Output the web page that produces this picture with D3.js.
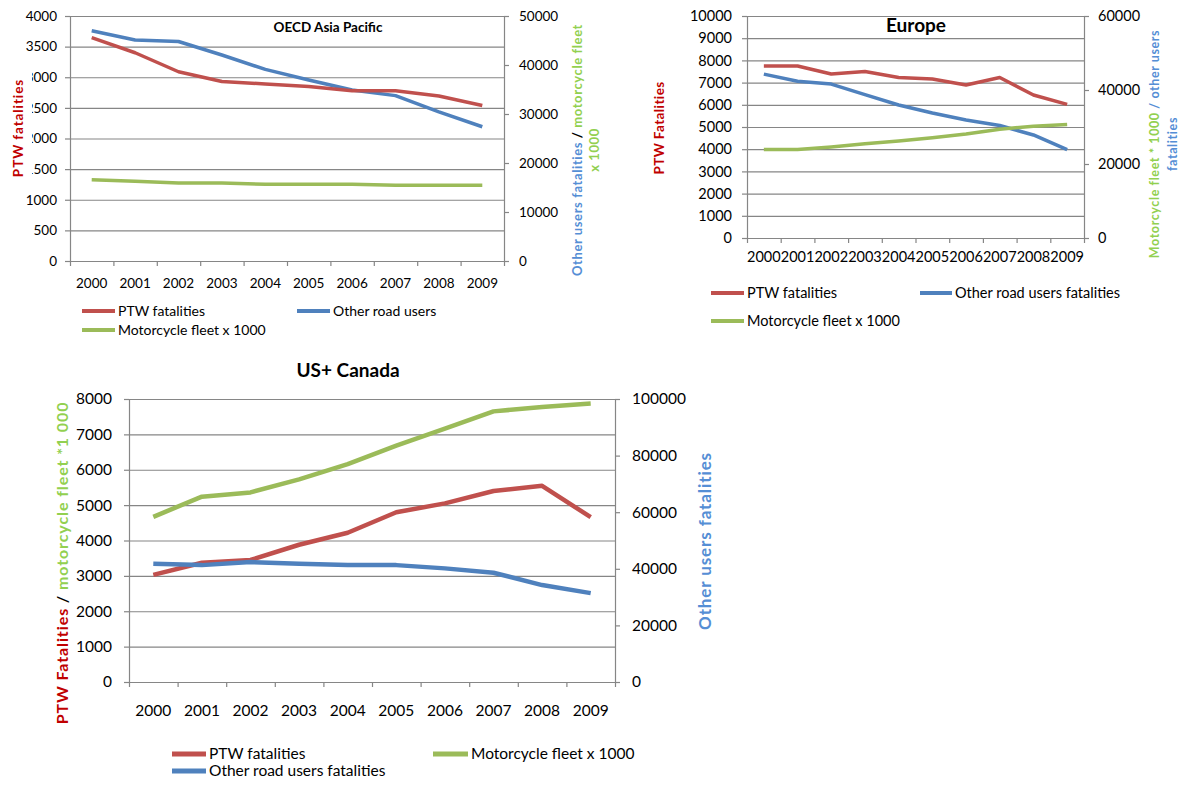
<!DOCTYPE html>
<html lang="en">
<head>
<meta charset="UTF-8">
<script src="https://d3js.org/d3.v7.min.js"></script>
<style>
  body { margin: 0; background: #fff; }
  svg text { font-family: Lato, "Open Sans", sans-serif; }
</style>
</head>
<body>
<svg id="chart" width="1183" height="787"></svg>
<script>
const years = ["2000", "2001", "2002", "2003", "2004", "2005", "2006", "2007", "2008", "2009"];

// OECD Asia Pacific
const asiaPtw = [3646, 3400, 3090, 2930, 2890, 2850, 2780, 2780, 2695, 2540];
const asiaOther = [47000, 45100, 44800, 42050, 39100, 36950, 34900, 33750, 30450, 27400];
const asiaFleet = [16600, 16300, 15900, 15900, 15650, 15650, 15650, 15450, 15450, 15450];
const asiaLeftTicks = [0, 500, 1000, 1500, 2000, 2500, 3000, 3500, 4000];
const asiaRightTicks = [0, 10000, 20000, 30000, 40000, 50000];

// Europe
const europePtw = [7750, 7750, 7390, 7500, 7230, 7160, 6890, 7230, 6440, 6020];
const europeOther = [44300, 42350, 41600, 38750, 35950, 33800, 31900, 30400, 27850, 23900];
const europeFleet = [23900, 23900, 24600, 25500, 26200, 27100, 28100, 29400, 30200, 30700];
const europeLeftTicks = [0, 1000, 2000, 3000, 4000, 5000, 6000, 7000, 8000, 9000, 10000];
const europeRightTicks = [0, 20000, 40000, 60000];

// US + Canada
const usPtw = [3030, 3370, 3450, 3880, 4220, 4800, 5050, 5400, 5545, 4660];
const usFleet = [4670, 5240, 5360, 5730, 6160, 6680, 7160, 7650, 7775, 7870];
const usOther = [41800, 41300, 42400, 41800, 41300, 41300, 40150, 38600, 34250, 31400];
const usLeftTicks = [0, 1000, 2000, 3000, 4000, 5000, 6000, 7000, 8000];
const usRightTicks = [0, 20000, 40000, 60000, 80000, 100000];

const RED = "#C0504D", BLUE = "#4F81BD", GREEN = "#9BBB59";
const LRED = "#C00000", LBLUE = "#558ED5", LGREEN = "#92D050";
const GRID = "#868686";

const svg = d3.select("#chart");

// rotated axis title; lines = list of [text, colour] parts
function rotatedLabel(cx, cy, size, spacing, lines, lineGap, maskRight) {
    const g = svg.append("g").attr("transform", `translate(${cx},${cy}) rotate(-90)`);
    const texts = lines.map((parts, i) => {
        const t = g.append("text")
            .attr("text-anchor", "middle")
            .attr("y", (i - (lines.length - 1) / 2) * lineGap)
            .attr("dy", "0.35em")
            .style("font-size", size + "px")
            .style("font-weight", "bold")
            .style("letter-spacing", spacing + "px");
        parts.forEach(p => t.append("tspan").attr("fill", p[1]).text(p[0]));
        return t;
    });
    if (maskRight) {
        // white box behind the title, hides part of the tick labels like the original
        const b = texts[0].node().getBBox();
        const top = b.y - 2;
        g.insert("rect", "text")
            .attr("x", b.x - 8).attr("y", top)
            .attr("width", b.width + 16).attr("height", maskRight - cx - top)
            .attr("fill", "#fff");
    }
}

function drawPanel(p) {
    const g = svg.append("g");
    const x = d3.scaleBand().domain(years).range([p.left, p.right]);
    const xb = d3.scaleLinear().domain([0, years.length]).range([p.left, p.right]);
    const yL = d3.scaleLinear().domain([0, d3.max(p.leftTicks)]).range([p.bottom, p.top]);
    const yR = d3.scaleLinear().domain([0, d3.max(p.rightTicks)]).range([p.bottom, p.top]);
    const fmt = d3.format("d");

    // gridlines
    g.append("g")
        .attr("transform", `translate(${p.left},0)`)
        .call(d3.axisLeft(yL).tickValues(p.leftTicks).tickSize(-(p.right - p.left)).tickFormat(""))
        .call(a => a.select(".domain").remove())
        .selectAll("line").attr("stroke", GRID).attr("stroke-width", 1.2);

    const la = g.append("g")
        .attr("transform", `translate(${p.left},0)`)
        .call(d3.axisLeft(yL).tickValues(p.leftTicks).tickFormat(fmt).tickSize(5).tickSizeOuter(0).tickPadding(p.padL));
    const ra = g.append("g")
        .attr("transform", `translate(${p.right},0)`)
        .call(d3.axisRight(yR).tickValues(p.rightTicks).tickFormat(fmt).tickSize(5).tickSizeOuter(0).tickPadding(p.padR));
    // category axis: ticks between categories, labels in the middle
    const ba = g.append("g")
        .attr("transform", `translate(0,${p.bottom})`)
        .call(d3.axisBottom(xb).tickValues(d3.range(years.length + 1)).tickSize(5).tickSizeOuter(0).tickFormat(""));
    const lab = g.append("g")
        .attr("transform", `translate(0,${p.bottom})`)
        .call(d3.axisBottom(x).tickSize(0))
        .call(a => a.select(".domain").remove());
    lab.selectAll("text").attr("y", p.xLabelOff).attr("dy", "0.35em");

    [la, ra, ba, lab].forEach(a => {
        a.selectAll(".domain, line").attr("stroke", GRID).attr("stroke-width", 1.2);
        a.selectAll("text").attr("fill", "#000").style("font-size", p.tickSize + "px");
    });

    p.series.forEach(s => {
        const y = s.axis === "left" ? yL : yR;
        const line = d3.line()
            .x((d, i) => x(years[i]) + x.bandwidth() / 2)
            .y(d => y(d));
        g.append("path")
            .datum(s.values)
            .attr("fill", "none")
            .attr("stroke", s.color)
            .attr("stroke-width", p.lineWidth)
            .attr("stroke-linejoin", "round")
            .attr("d", line);
    });

    g.append("text")
        .attr("x", p.title.x).attr("y", p.title.y)
        .attr("text-anchor", "middle").attr("dy", "0.35em")
        .style("font-size", p.title.size + "px")
        .style("font-weight", "bold")
        .text(p.title.text);

    p.legend.forEach(l => {
        g.append("line")
            .attr("x1", l.x).attr("x2", l.x + l.w)
            .attr("y1", l.y).attr("y2", l.y)
            .attr("stroke", l.color).attr("stroke-width", p.lineWidth + 0.5);
        g.append("text")
            .attr("x", l.x + l.w + 3).attr("y", l.y).attr("dy", "0.35em")
            .style("font-size", p.legendSize + "px")
            .text(l.text);
    });
}

drawPanel({
    left: 70, right: 504, top: 16, bottom: 261,
    leftTicks: asiaLeftTicks, rightTicks: asiaRightTicks,
    padL: 8, padR: 10, xLabelOff: 22, tickSize: 13.5, lineWidth: 3.5, legendSize: 14,
    title: { text: "OECD Asia Pacific", x: 328, y: 27, size: 13.5 },
    series: [
        { values: asiaOther, axis: "right", color: BLUE },
        { values: asiaFleet, axis: "right", color: GREEN },
        { values: asiaPtw, axis: "left", color: RED }
    ],
    legend: [
        { text: "PTW fatalities", color: RED, x: 82, y: 311, w: 33 },
        { text: "Other road users", color: BLUE, x: 297, y: 311, w: 33 },
        { text: "Motorcycle fleet x 1000", color: GREEN, x: 82, y: 330, w: 33 }
    ]
});
rotatedLabel(18, 128, 13.5, 0.9, [[["PTW fatalities", LRED]]], 0, 32);
rotatedLabel(586, 150, 13, 0.6, [
    [["Other users fatalities ", LBLUE], ["/", "#000"], [" motorcycle fleet", LGREEN]],
    [["x 1000", LGREEN]]
], 17, 0);

drawPanel({
    left: 747, right: 1084, top: 16, bottom: 238,
    leftTicks: europeLeftTicks, rightTicks: europeRightTicks,
    padL: 10, padR: 9, xLabelOff: 19, tickSize: 14.5, lineWidth: 3.5, legendSize: 14.5,
    title: { text: "Europe", x: 916, y: 25, size: 19 },
    series: [
        { values: europeOther, axis: "right", color: BLUE },
        { values: europeFleet, axis: "right", color: GREEN },
        { values: europePtw, axis: "left", color: RED }
    ],
    legend: [
        { text: "PTW  fatalities", color: RED, x: 711, y: 293, w: 33 },
        { text: "Other road users fatalities", color: BLUE, x: 920, y: 293, w: 32 },
        { text: "Motorcycle fleet x 1000", color: GREEN, x: 711, y: 321, w: 33 }
    ]
});
rotatedLabel(659, 128, 13.5, 0.4, [[["PTW Fatalities", LRED]]], 0, 0);
rotatedLabel(1164, 144, 12.5, 0.6, [
    [["Motorcycle fleet * 1000", LGREEN], [" / other users", LBLUE]],
    [["fatalities", LBLUE]]
], 18, 0);

drawPanel({
    left: 129, right: 615, top: 399, bottom: 682,
    leftTicks: usLeftTicks, rightTicks: usRightTicks,
    padL: 12, padR: 12, xLabelOff: 29, tickSize: 15.5, lineWidth: 4.5, legendSize: 15.5,
    title: { text: "US+ Canada", x: 348, y: 370, size: 19 },
    series: [
        { values: usPtw, axis: "left", color: RED },
        { values: usFleet, axis: "left", color: GREEN },
        { values: usOther, axis: "right", color: BLUE }
    ],
    legend: [
        { text: "PTW fatalities", color: RED, x: 172, y: 754, w: 34 },
        { text: "Motorcycle fleet x 1000", color: GREEN, x: 433, y: 754, w: 35 },
        { text: "Other road users fatalities", color: BLUE, x: 172, y: 771, w: 34 }
    ]
});
rotatedLabel(62, 563, 16, 0.9, [
    [["PTW Fatalities ", LRED], ["/", "#000"], [" motorcycle fleet  *1 000", LGREEN]]
], 0, 0);
rotatedLabel(705, 541, 17, 0.9, [[["Other users fatalities", LBLUE]]], 0, 0);
</script>
</body>
</html>
